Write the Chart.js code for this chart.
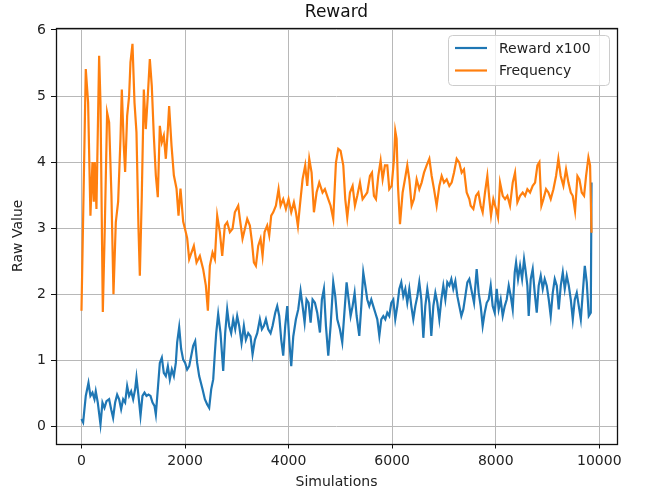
<!DOCTYPE html>
<html>
<head>
<meta charset="utf-8">
<script src="https://cdn.jsdelivr.net/npm/chart.js@4.4.1/dist/chart.umd.min.js"></script>
<style>
  html, body { margin: 0; padding: 0; background: #fff; }
  #wrap { width: 649px; height: 495px; position: relative; }
</style>
</head>
<body>
<div id="wrap"><canvas id="chart" width="649" height="495"></canvas></div>
<script>
// values (x = simulations)
const rewardSims = [0, 32, 83, 135, 173, 212, 251, 276, 315, 367, 405, 444, 483, 534, 573, 611, 650, 689, 727, 766, 805, 843, 882, 920, 959, 998, 1036, 1062, 1101, 1140, 1178, 1217, 1256, 1294, 1333, 1372, 1410, 1436, 1474, 1513, 1552, 1590, 1629, 1668, 1706, 1745, 1784, 1822, 1848, 1887, 1925, 1964, 2002, 2041, 2080, 2118, 2157, 2196, 2234, 2273, 2338, 2383, 2428, 2466, 2505, 2544, 2576, 2602, 2640, 2685, 2737, 2775, 2814, 2853, 2891, 2930, 2969, 3007, 3046, 3091, 3136, 3175, 3220, 3265, 3304, 3349, 3394, 3445, 3484, 3523, 3562, 3607, 3652, 3690, 3742, 3780, 3819, 3858, 3896, 3935, 3974, 4012, 4051, 4090, 4141, 4186, 4231, 4270, 4309, 4347, 4386, 4425, 4463, 4508, 4553, 4605, 4643, 4682, 4721, 4766, 4811, 4862, 4901, 4940, 4991, 5036, 5082, 5120, 5159, 5198, 5236, 5275, 5314, 5365, 5404, 5442, 5481, 5519, 5558, 5597, 5635, 5674, 5713, 5752, 5790, 5829, 5867, 5906, 5944, 5983, 6022, 6060, 6099, 6138, 6176, 6215, 6254, 6292, 6331, 6370, 6408, 6447, 6486, 6524, 6563, 6602, 6640, 6679, 6718, 6756, 6795, 6834, 6872, 6911, 6950, 6988, 7027, 7065, 7104, 7143, 7181, 7220, 7259, 7297, 7336, 7374, 7413, 7452, 7490, 7542, 7581, 7632, 7671, 7710, 7748, 7787, 7826, 7864, 7903, 7941, 7980, 8019, 8057, 8096, 8135, 8174, 8212, 8251, 8290, 8328, 8367, 8393, 8431, 8470, 8509, 8547, 8573, 8611, 8637, 8676, 8714, 8753, 8792, 8830, 8869, 8908, 8946, 8985, 9024, 9062, 9101, 9140, 9179, 9217, 9256, 9295, 9333, 9372, 9411, 9449, 9488, 9527, 9565, 9604, 9643, 9681, 9720, 9758, 9797, 9836, 9850];
const rewardVals = [0.11, 0.06, 0.46, 0.66, 0.46, 0.51, 0.41, 0.53, 0.36, 0.03, 0.36, 0.28, 0.38, 0.41, 0.26, 0.13, 0.36, 0.48, 0.41, 0.26, 0.41, 0.36, 0.61, 0.46, 0.53, 0.41, 0.56, 0.74, 0.46, 0.16, 0.46, 0.51, 0.46, 0.48, 0.46, 0.36, 0.31, 0.18, 0.56, 0.96, 1.04, 0.81, 0.76, 0.91, 0.71, 0.86, 0.76, 0.96, 1.27, 1.5, 1.17, 1.01, 0.96, 0.86, 0.91, 1.06, 1.22, 1.29, 0.96, 0.76, 0.56, 0.41, 0.33, 0.28, 0.56, 0.71, 1.11, 1.41, 1.7, 1.41, 0.84, 1.41, 1.77, 1.52, 1.41, 1.62, 1.47, 1.67, 1.52, 1.26, 1.52, 1.31, 1.41, 1.36, 1.09, 1.31, 1.41, 1.62, 1.47, 1.52, 1.62, 1.47, 1.41, 1.52, 1.72, 1.82, 1.67, 1.31, 1.07, 1.52, 1.82, 1.31, 0.91, 1.36, 1.62, 1.77, 2.05, 1.82, 1.57, 1.92, 1.87, 1.57, 1.92, 1.87, 1.72, 1.42, 1.92, 2.08, 1.52, 1.07, 1.52, 2.18, 1.97, 1.62, 1.47, 1.27, 1.77, 2.18, 1.92, 1.67, 1.82, 2.02, 1.67, 1.37, 1.82, 2.33, 2.13, 1.92, 1.82, 1.92, 1.82, 1.72, 1.62, 1.37, 1.62, 1.67, 1.62, 1.72, 1.67, 1.87, 1.92, 1.62, 1.82, 2.08, 2.18, 1.97, 2.08, 1.87, 2.08, 1.82, 1.62, 1.82, 1.97, 2.18, 1.92, 1.34, 1.82, 2.08, 1.87, 1.37, 1.82, 2.02, 1.87, 1.62, 1.92, 2.13, 1.92, 2.18, 2.13, 2.23, 2.08, 2.2, 1.97, 1.82, 1.67, 1.77, 1.97, 2.18, 2.23, 2.02, 1.87, 2.38, 2.02, 1.82, 1.52, 1.72, 1.87, 1.92, 2.13, 1.82, 1.72, 2.08, 1.77, 1.92, 1.67, 1.82, 1.92, 2.13, 1.97, 1.77, 2.33, 2.48, 2.23, 2.43, 2.23, 2.53, 2.38, 2.13, 1.67, 2.23, 2.38, 2.02, 1.72, 2.13, 2.28, 2.08, 2.23, 2.13, 1.92, 1.67, 2.02, 2.23, 2.13, 1.77, 2.13, 2.33, 2.08, 2.28, 2.13, 1.92, 1.62, 1.92, 2.02, 1.82, 1.62, 2.02, 2.43, 2.18, 1.67, 1.72, 3.69];

const freqSims = [0, 83, 128, 173, 212, 238, 257, 289, 341, 367, 412, 450, 495, 534, 579, 618, 663, 708, 753, 779, 817, 843, 882, 920, 946, 985, 1024, 1062, 1101, 1127, 1165, 1204, 1242, 1281, 1320, 1358, 1397, 1436, 1474, 1513, 1552, 1590, 1629, 1668, 1693, 1739, 1784, 1835, 1874, 1912, 1964, 2002, 2041, 2080, 2170, 2222, 2286, 2350, 2402, 2441, 2479, 2531, 2576, 2621, 2672, 2718, 2769, 2814, 2866, 2917, 2962, 3027, 3059, 3110, 3156, 3201, 3252, 3291, 3330, 3368, 3413, 3458, 3497, 3536, 3587, 3626, 3664, 3703, 3755, 3806, 3845, 3896, 3948, 3999, 4051, 4102, 4141, 4180, 4218, 4270, 4321, 4360, 4399, 4444, 4489, 4540, 4592, 4656, 4701, 4766, 4811, 4862, 4914, 4959, 5004, 5056, 5094, 5133, 5185, 5236, 5281, 5326, 5378, 5429, 5474, 5519, 5571, 5610, 5648, 5687, 5732, 5777, 5816, 5861, 5906, 5944, 5990, 6035, 6060, 6086, 6112, 6151, 6202, 6247, 6292, 6331, 6376, 6421, 6473, 6524, 6569, 6615, 6666, 6718, 6763, 6808, 6859, 6911, 6956, 7001, 7053, 7104, 7149, 7194, 7246, 7297, 7342, 7387, 7439, 7490, 7516, 7568, 7619, 7665, 7710, 7748, 7793, 7838, 7877, 7909, 7954, 8006, 8044, 8083, 8135, 8180, 8225, 8276, 8328, 8373, 8418, 8470, 8521, 8566, 8611, 8663, 8714, 8760, 8805, 8843, 8882, 8921, 8972, 9017, 9062, 9114, 9165, 9210, 9255, 9307, 9358, 9404, 9449, 9487, 9532, 9578, 9616, 9661, 9706, 9745, 9790, 9822, 9850];
const freqVals = [1.75, 5.41, 4.9, 3.19, 4.0, 3.4, 4.0, 3.29, 5.61, 4.9, 1.73, 3.0, 4.75, 4.6, 3.49, 2.0, 3.09, 3.4, 4.35, 5.1, 4.25, 3.85, 4.7, 5.0, 5.51, 5.79, 4.9, 4.45, 3.0, 2.28, 3.5, 5.1, 4.5, 5.0, 5.56, 5.15, 4.4, 3.8, 3.47, 4.55, 4.3, 4.4, 4.05, 4.5, 4.85, 4.25, 3.8, 3.6, 3.19, 3.6, 3.1, 2.98, 2.85, 2.53, 2.73, 2.48, 2.58, 2.38, 2.13, 1.75, 2.43, 2.63, 2.53, 3.19, 2.94, 2.58, 3.04, 3.09, 2.94, 2.99, 3.24, 3.34, 3.14, 2.84, 2.99, 3.14, 3.04, 2.8, 2.48, 2.43, 2.73, 2.84, 2.58, 2.94, 3.04, 2.89, 3.19, 3.24, 3.34, 3.59, 3.34, 3.44, 3.29, 3.44, 3.24, 3.39, 3.24, 3.03, 3.34, 3.74, 3.95, 3.64, 4.05, 3.84, 3.24, 3.54, 3.69, 3.54, 3.59, 3.44, 3.34, 3.14, 3.99, 4.2, 4.17, 3.95, 3.44, 3.16, 3.54, 3.64, 3.34, 3.49, 3.69, 3.44, 3.49, 3.54, 3.79, 3.84, 3.49, 3.44, 3.79, 4.02, 3.74, 3.95, 3.95, 3.59, 3.64, 4.04, 4.47, 4.35, 3.64, 3.06, 3.54, 3.74, 3.95, 3.74, 3.34, 3.44, 3.74, 3.59, 3.69, 3.84, 3.95, 4.05, 3.79, 3.59, 3.34, 3.64, 3.79, 3.69, 3.74, 3.64, 3.69, 3.84, 4.05, 3.99, 3.84, 3.89, 3.54, 3.44, 3.34, 3.29, 3.49, 3.54, 3.34, 3.24, 3.54, 3.79, 3.44, 3.19, 3.44, 3.29, 3.16, 3.69, 3.49, 3.44, 3.49, 3.34, 3.69, 3.84, 3.39, 3.49, 3.54, 3.49, 3.59, 3.54, 3.64, 3.69, 3.95, 4.0, 3.34, 3.44, 3.59, 3.54, 3.44, 3.59, 3.79, 4.05, 3.79, 3.64, 3.89, 3.69, 3.54, 3.49, 3.26, 3.79, 3.74, 3.54, 3.49, 3.79, 4.07, 3.95, 2.93];

const seriesNames = ['Reward x100', 'Frequency'];
const seriesColors = ['#1f77b4', '#ff7f0e'];
const xTicks = [0, 2000, 4000, 6000, 8000, 10000];
const yTicks = [0, 1, 2, 3, 4, 5, 6];

const FONT = "'DejaVu Sans', sans-serif";

function toPoints(xs, ys) {
  return xs.map((x, i) => ({ x: x, y: ys[i] }));
}

// frame around plot + legend in the upper right corner
const framePlugin = {
  id: 'frame',
  afterDraw(chart) {
    const ctx = chart.ctx;
    const a = chart.chartArea;
    ctx.save();
    ctx.strokeStyle = '#111';
    ctx.lineWidth = 1.3;
    ctx.strokeRect(Math.round(a.left) + 0.5, Math.round(a.top) + 0.5, Math.round(a.right - a.left), Math.round(a.bottom - a.top));

    // legend box
    const bx = 448.5, by = 35.5, bw = 161, bh = 50, r = 4;
    ctx.beginPath();
    ctx.moveTo(bx + r, by);
    ctx.lineTo(bx + bw - r, by);
    ctx.quadraticCurveTo(bx + bw, by, bx + bw, by + r);
    ctx.lineTo(bx + bw, by + bh - r);
    ctx.quadraticCurveTo(bx + bw, by + bh, bx + bw - r, by + bh);
    ctx.lineTo(bx + r, by + bh);
    ctx.quadraticCurveTo(bx, by + bh, bx, by + bh - r);
    ctx.lineTo(bx, by + r);
    ctx.quadraticCurveTo(bx, by, bx + r, by);
    ctx.closePath();
    ctx.fillStyle = 'rgba(255,255,255,0.8)';
    ctx.fill();
    ctx.strokeStyle = '#cccccc';
    ctx.lineWidth = 1;
    ctx.stroke();

    ctx.font = '14px ' + FONT;
    ctx.textBaseline = 'middle';
    ctx.textAlign = 'left';
    seriesNames.forEach((name, i) => {
      const y = 48 + i * 22.5;
      ctx.strokeStyle = seriesColors[i];
      ctx.lineWidth = 2.2;
      ctx.beginPath();
      ctx.moveTo(455, y);
      ctx.lineTo(487, y);
      ctx.stroke();
      ctx.fillStyle = '#222';
      ctx.fillText(name, 499, y + 1);
    });
    ctx.restore();
  }
};

new Chart(document.getElementById('chart'), {
  type: 'line',
  data: {
    datasets: [
      {
        label: seriesNames[0],
        data: toPoints(rewardSims, rewardVals),
        borderColor: seriesColors[0],
        borderWidth: 2.2,
        pointRadius: 0,
        tension: 0,
        order: 1
      },
      {
        label: seriesNames[1],
        data: toPoints(freqSims, freqVals),
        borderColor: seriesColors[1],
        borderWidth: 2.2,
        pointRadius: 0,
        tension: 0,
        order: 0
      }
    ]
  },
  options: {
    responsive: false,
    animation: false,
    layout: { padding: { top: 0, right: 32, left: 0, bottom: 0 } },
    plugins: {
      legend: { display: false },
      tooltip: { enabled: false },
      title: {
        display: true,
        text: 'Reward',
        fullSize: false,
        color: '#111',
        font: { family: FONT, size: 17, weight: 'normal' },
        padding: { top: 2, bottom: 5.6 }
      }
    },
    scales: {
      x: {
        type: 'linear',
        min: -492,
        max: 10342,
        afterBuildTicks: s => { s.ticks = xTicks.map(v => ({ value: v })); },
        afterFit: s => { s.height = 51.5; },
        grid: { color: '#b8b8b8', lineWidth: 1, tickLength: 5, tickColor: '#111' },
        border: { display: false },
        ticks: {
          color: '#222',
          padding: 4,
          maxRotation: 0,
          font: { family: FONT, size: 14 },
          callback: v => String(v)
        },
        title: {
          display: true,
          text: 'Simulations',
          color: '#222',
          font: { family: FONT, size: 14 },
          padding: { top: 0, bottom: 4 }
        }
      },
      y: {
        type: 'linear',
        min: -0.26,
        max: 6.03,
        afterBuildTicks: s => { s.ticks = yTicks.map(v => ({ value: v })); },
        afterFit: s => { s.width = 56; },
        grid: { color: '#b8b8b8', lineWidth: 1, tickLength: 5, tickColor: '#111' },
        border: { display: false },
        ticks: {
          color: '#222',
          padding: 5,
          font: { family: FONT, size: 14 },
          callback: v => String(v)
        },
        title: {
          display: true,
          text: 'Raw Value',
          color: '#222',
          font: { family: FONT, size: 14 },
          padding: { top: 10, bottom: 0 }
        }
      }
    }
  },
  plugins: [framePlugin]
});
</script>
</body>
</html>
